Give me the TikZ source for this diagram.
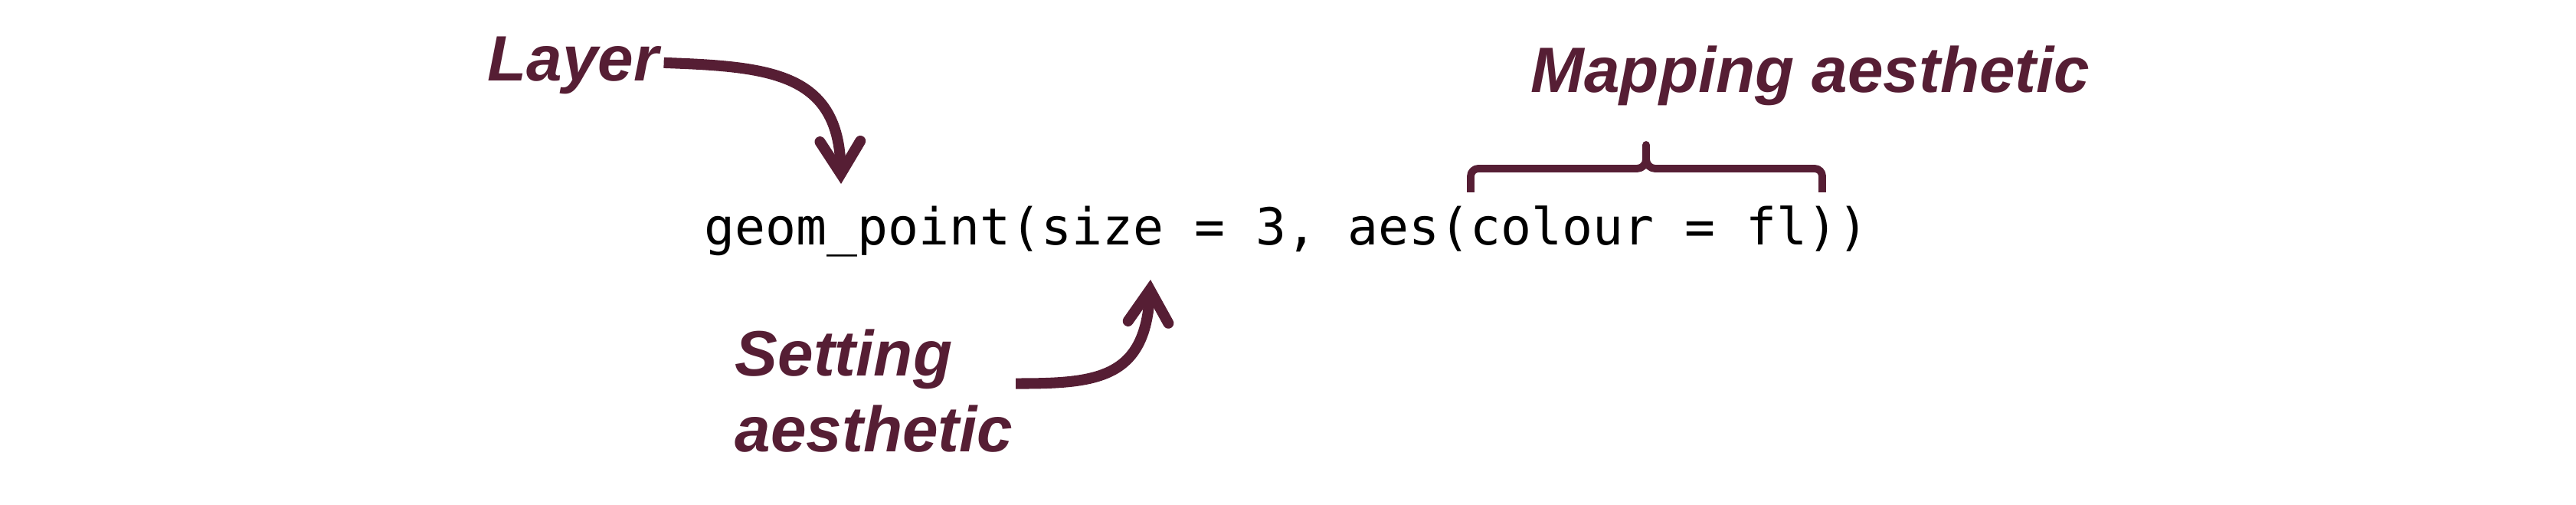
\documentclass[tikz,border=0pt]{standalone}
\usepackage{fontspec}
\setmonofont{DejaVu Sans Mono}
\newfontfamily\labelfont{Liberation Sans}
\usetikzlibrary{arrows.meta,calc}
\definecolor{maroon}{RGB}{86,30,52}

\tikzset{
  annot/.style={font=\labelfont\bfseries\itshape\fontsize{23.8}{28.2}\selectfont, text=maroon, inner sep=0pt},
  pointer/.style={draw=maroon, line width=4pt, -{Straight Barb[length=12pt, width=15pt, line cap=round]}},
  bracket/.style={draw=maroon, line width=2.8pt, line join=round},
}

\begin{document}
\begin{tikzpicture}
\useasboundingbox (0,0) rectangle (33.63,-6.59);
% the code line
\node[font=\ttfamily\fontsize{18.9}{22}\selectfont, inner sep=0pt, anchor=base west] (code) at (9.19,-3.20) {geom\_point(size = 3, aes(colour = fl))};
% labels
\node[annot, anchor=base west] (layer) at (6.36,-1.06) {Layer};
\node[annot, anchor=base west] (mapping) at (19.98,-1.21) {Mapping aesthetic};
\node[annot, anchor=base west, align=left] (setting) at (9.59,-5.90) {Setting\\aesthetic};
% arrow tips over the code
\coordinate (layertip) at (10.98,-2.40);
\coordinate (settingtip) at (15.02,-3.65);
\draw[pointer] ([shift={(0.06,0.04)}]layer.east) .. controls +(1.39,-0.05) and +(-0.03,1.45) .. (layertip);
\draw[pointer] ([shift={(0.03,0.1)}]setting.east) .. controls +(1.05,0) and +(-0.07,-1.30) .. (settingtip);
% bracket over aes(...)
\draw[bracket] (19.20,-2.51) -- (19.20,-2.30) to[out=90,in=180] (19.30,-2.20) -- (21.37,-2.20)
  to[out=0,in=-90] (21.49,-2.08) -- (21.49,-1.89) -- (21.49,-2.08) to[out=-90,in=180] (21.61,-2.20)
  -- (23.69,-2.20) to[out=0,in=90] (23.79,-2.30) -- (23.79,-2.51);
\end{tikzpicture}
\end{document}
